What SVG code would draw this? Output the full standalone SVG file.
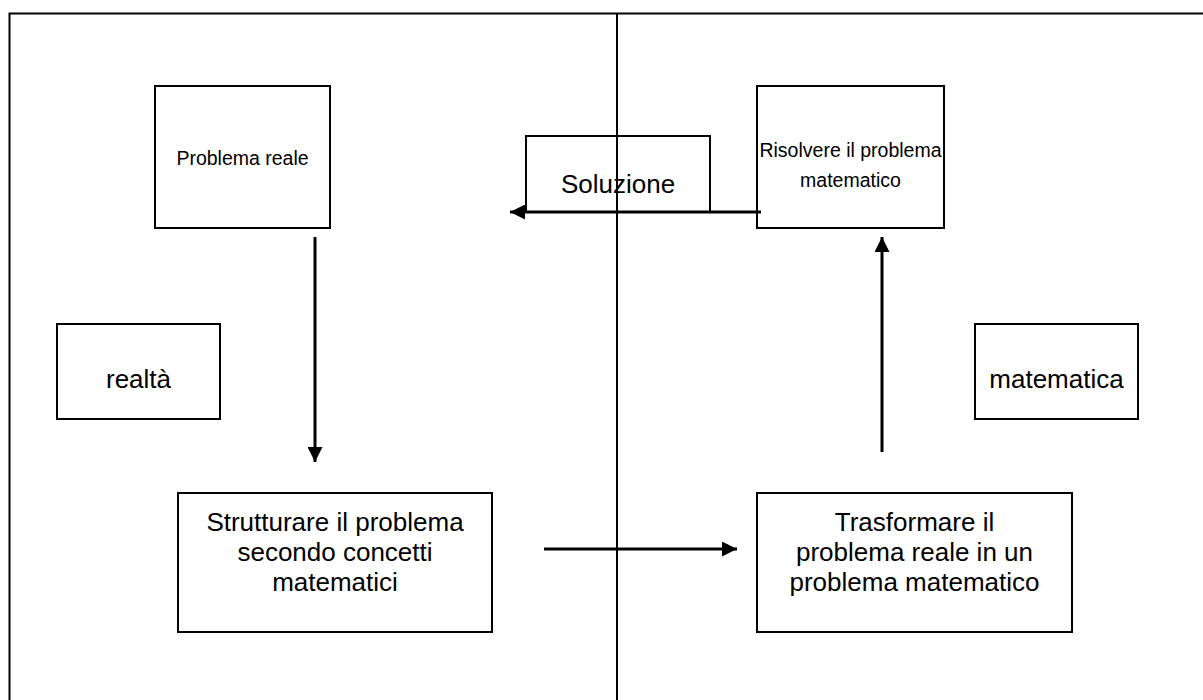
<svg xmlns="http://www.w3.org/2000/svg" width="1203" height="700" viewBox="0 0 1203 700">
<style>
.box{fill:#fff;stroke:#000;stroke-width:2}
.frame{fill:none;stroke:#000;stroke-width:2}
.t{font-family:"Liberation Sans",Arial,sans-serif;font-size:26px;fill:#000;text-anchor:middle}
.s{font-size:19.5px}
.arr{stroke:#000;stroke-width:3;fill:none;marker-end:url(#ah)}
</style>
<defs>
<marker id="ah" viewBox="0 0 10 10" refX="10" refY="5" markerWidth="5.5" markerHeight="5" orient="auto" markerUnits="strokeWidth">
<path d="M0,0 L10,5 L0,10 z" fill="#000"/>
</marker>
</defs>
<rect width="1203" height="700" fill="#fff"/>
<g id="frame">
<path class="frame" d="M9.5,701 V13.5 H1204"/>
<line class="frame" x1="617" y1="13" x2="617" y2="701"/>
</g>
<g id="soluzione">
<rect class="box" x="526" y="136" width="184" height="76" style="fill:none"/>
<text class="t" x="618" y="193">Soluzione</text>
</g>
<g id="problema-reale">
<rect class="box" x="155" y="86" width="175" height="142"/>
<text class="t s" x="242.5" y="165">Problema reale</text>
</g>
<g id="risolvere">
<rect class="box" x="757" y="86" width="187" height="142"/>
<text class="t s" x="850.5" y="157">Risolvere il problema</text>
<text class="t s" x="850.5" y="187">matematico</text>
</g>
<g id="realta">
<rect class="box" x="57" y="324" width="163" height="95"/>
<text class="t" x="138.5" y="388">realtà</text>
</g>
<g id="matematica">
<rect class="box" x="975" y="324" width="163" height="95"/>
<text class="t" x="1056.5" y="388">matematica</text>
</g>
<g id="strutturare">
<rect class="box" x="178" y="493" width="314" height="139"/>
<text class="t" x="335" y="531">Strutturare il problema</text>
<text class="t" x="335" y="561">secondo concetti</text>
<text class="t" x="335" y="591">matematici</text>
</g>
<g id="trasformare">
<rect class="box" x="757" y="493" width="315" height="139"/>
<text class="t" x="914.5" y="531">Trasformare il</text>
<text class="t" x="914.5" y="561">problema reale in un</text>
<text class="t" x="914.5" y="591">problema matematico</text>
</g>
<g id="connectors">
<line class="arr" x1="315" y1="237" x2="315" y2="462"/>
<line class="arr" x1="544" y1="549" x2="737" y2="549"/>
<line class="arr" x1="882" y1="452" x2="882" y2="237"/>
<line class="arr" x1="761" y1="212" x2="510" y2="212"/>
</g>
</svg>
